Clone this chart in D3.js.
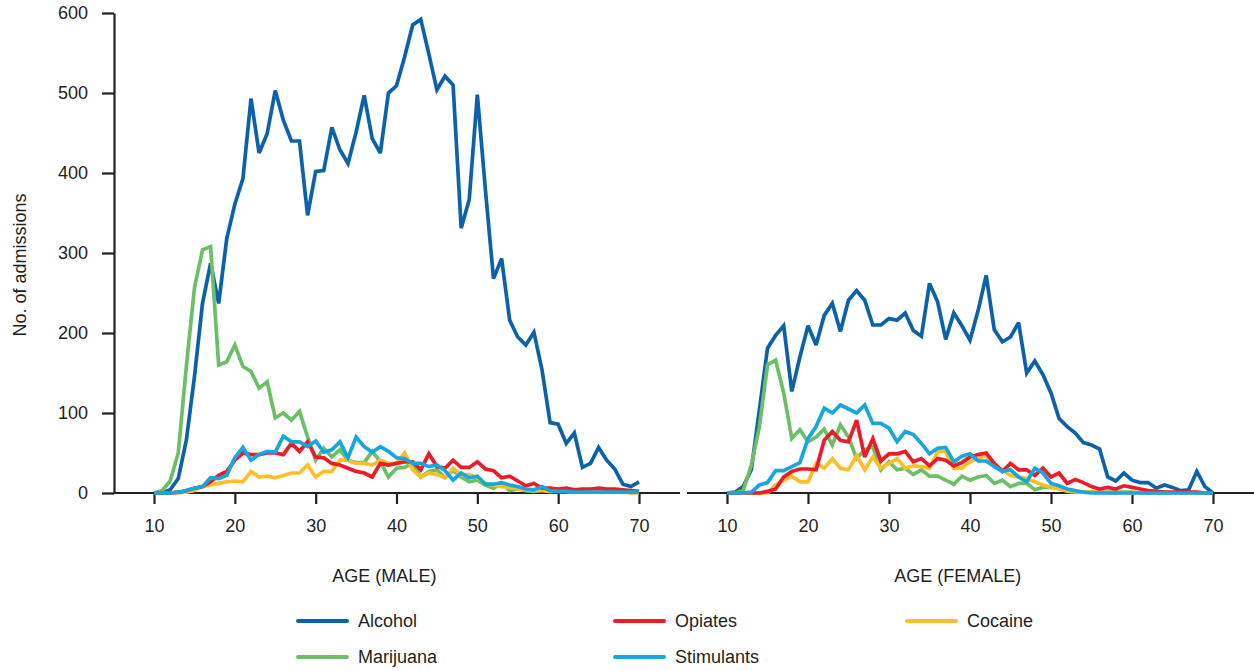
<!DOCTYPE html>
<html>
<head>
<meta charset="utf-8">
<script src="https://cdn.jsdelivr.net/npm/d3@7"></script>
<style>
  body { margin: 0; background: #fff; }
  svg text { font-family: "Liberation Sans", Arial, sans-serif; fill: #231f20; }
</style>
</head>
<body>
<svg id="chart" width="1254" height="671"></svg>
<script>
// ages 10..70, one value per year
const ages = d3.range(10, 71);

const maleAlcohol = [0,0,4,18,66,145,237,287,237,318,361,393,493,425,449,503,466,440,440,347,402,403,457,429,412,451,497,443,425,500,509,545,585,592,549,504,521,510,331,367,498,379,268,293,216,195,185,201,154,88,86,62,75,32,37,57,41,30,11,8,14];
const maleMarijuana = [0,3,15,50,158,256,304,308,160,164,185,158,152,131,139,94,100,91,102,70,41,56,45,54,41,38,38,52,39,20,31,32,37,20,27,29,19,28,20,14,16,10,6,12,3,5,3,2,4,2,3,2,2,2,2,3,2,1,1,1,0];
const maleOpiates = [0,0,0,1,3,6,8,14,22,27,41,50,48,48,50,50,48,62,52,64,45,44,37,35,31,27,25,20,37,35,37,39,39,29,49,33,31,41,32,32,39,30,28,19,21,15,9,12,6,6,5,6,4,5,5,6,5,5,4,3,2];
const maleCocaine = [0,0,0,0,1,3,8,10,12,14,15,14,27,20,21,19,22,25,25,35,20,27,27,41,41,37,37,35,41,37,37,50,29,20,25,23,19,31,23,23,19,12,10,8,7,5,4,3,3,2,2,2,1,1,1,1,1,1,1,0,0];
const maleStimulants = [0,0,0,1,3,6,8,19,18,22,44,57,41,48,52,51,71,64,64,58,65,51,54,64,44,70,58,51,58,52,44,43,37,37,33,35,28,16,25,19,21,11,11,13,10,8,5,4,8,3,2,2,1,1,1,1,1,1,1,1,1];

const femaleAlcohol = [0,1,8,29,104,181,197,209,127,170,209,185,222,237,202,241,253,241,210,210,218,216,225,203,196,262,239,192,225,209,191,228,272,204,189,195,213,150,165,148,125,93,83,75,63,60,55,20,15,25,16,13,13,6,10,7,3,4,27,8,0];
const femaleMarijuana = [0,0,3,35,83,160,166,125,68,79,64,70,80,60,85,70,43,54,58,29,39,29,31,23,29,21,21,16,11,21,16,20,22,12,16,8,12,12,4,7,7,6,2,1,1,1,1,1,1,1,1,0,0,0,0,0,0,0,0,0,0];
const femaleOpiates = [0,0,0,0,0,2,5,20,27,30,30,29,66,77,66,64,91,45,68,40,49,49,52,39,43,34,43,41,34,38,45,48,50,37,27,37,29,29,22,31,20,25,12,17,13,8,5,7,5,9,7,5,3,2,1,1,1,1,1,0,0];
const femaleCocaine = [0,0,0,0,0,0,10,16,21,14,14,37,31,43,31,29,47,29,45,31,37,43,31,34,33,31,52,52,31,31,39,43,47,33,29,22,20,18,14,10,7,5,3,2,1,1,1,0,0,0,0,0,0,0,0,0,0,0,0,0,0];
const femaleStimulants = [0,0,0,1,10,13,28,28,33,38,68,83,106,100,110,105,100,110,87,87,81,64,77,73,62,49,56,57,39,46,49,40,40,33,27,29,20,14,31,25,12,9,5,3,1,0,0,0,0,0,0,0,0,0,0,0,0,0,0,0,0];

const xTicks = [10, 20, 30, 40, 50, 60, 70];
const yTicks = [0, 100, 200, 300, 400, 500, 600];

const colors = {
  Alcohol: "#0b62a9",
  Marijuana: "#6cbf66",
  Opiates: "#ec1c26",
  Cocaine: "#fdbe2c",
  Stimulants: "#17a6de"
};
// legend: name, column, row
const legendOrder = [["Alcohol", 0, 0], ["Opiates", 1, 0], ["Cocaine", 2, 0], ["Marijuana", 0, 1], ["Stimulants", 1, 1]];

const panels = [
  { title: "AGE (MALE)", range: [154, 639], axisSpan: [114, 680],
    series: { Alcohol: maleAlcohol, Marijuana: maleMarijuana, Opiates: maleOpiates, Cocaine: maleCocaine, Stimulants: maleStimulants } },
  { title: "AGE (FEMALE)", range: [727, 1213], axisSpan: [687, 1254],
    series: { Alcohol: femaleAlcohol, Marijuana: femaleMarijuana, Opiates: femaleOpiates, Cocaine: femaleCocaine, Stimulants: femaleStimulants } }
];

const svg = d3.select("#chart");
const ink = "#231f20";

const y = d3.scaleLinear().domain([0, 600]).range([493, 13]);

// y axis
const yAxis = svg.append("g")
  .attr("transform", "translate(114,0)")
  .call(d3.axisLeft(y).tickValues(yTicks).tickSize(12).tickPadding(14).tickSizeOuter(0));
yAxis.select(".domain").attr("stroke", ink).attr("stroke-width", 2.2);
yAxis.selectAll(".tick line").attr("stroke", ink).attr("stroke-width", 2.2);
yAxis.selectAll(".tick text").attr("font-size", 18).style("font-family", "Liberation Sans, Arial, sans-serif");

svg.append("text")
  .attr("transform", "translate(26,265) rotate(-90)")
  .attr("text-anchor", "middle")
  .attr("font-size", 18)
  .text("No. of admissions");

// draw order (bottom to top)
const drawOrder = ["Alcohol", "Marijuana", "Cocaine", "Opiates", "Stimulants"];

panels.forEach(p => {
  const x = d3.scaleLinear().domain([10, 70]).range(p.range);

  svg.append("line")
    .attr("x1", p.axisSpan[0]).attr("x2", p.axisSpan[1])
    .attr("y1", y(0)).attr("y2", y(0))
    .attr("stroke", ink).attr("stroke-width", 2.2);

  const gx = svg.append("g")
    .attr("transform", `translate(0,${y(0)})`)
    .call(d3.axisBottom(x).tickValues(xTicks).tickSize(11).tickPadding(15));
  gx.select(".domain").remove();
  gx.selectAll(".tick line").attr("stroke", ink).attr("stroke-width", 2.2);
  gx.selectAll(".tick text").attr("font-size", 18).style("font-family", "Liberation Sans, Arial, sans-serif");

  svg.append("text")
    .attr("x", x(38.5)).attr("y", 582)
    .attr("text-anchor", "middle")
    .attr("font-size", 18)
    .text(p.title);

  const line = d3.line().x((d, i) => x(ages[i])).y(d => y(d));

  svg.append("g").selectAll("path")
    .data(drawOrder)
    .join("path")
    .attr("d", k => line(p.series[k]))
    .attr("fill", "none")
    .attr("stroke", k => colors[k])
    .attr("stroke-width", 3.7)
    .attr("stroke-linejoin", "miter")
    .attr("stroke-miterlimit", 3);
});

// legend
const legCols = [298, 615, 907];
const legRows = [621, 657];
const leg = svg.append("g").selectAll("g")
  .data(legendOrder)
  .join("g")
  .attr("transform", d => `translate(${legCols[d[1]]},${legRows[d[2]]})`);
leg.append("line")
  .attr("x1", 0).attr("x2", 49)
  .attr("stroke", d => colors[d[0]])
  .attr("stroke-width", 4)
  .attr("stroke-linecap", "round");
leg.append("text")
  .attr("x", 60).attr("y", 0)
  .attr("dy", "0.35em")
  .attr("font-size", 18)
  .text(d => d[0]);
</script>
</body>
</html>
